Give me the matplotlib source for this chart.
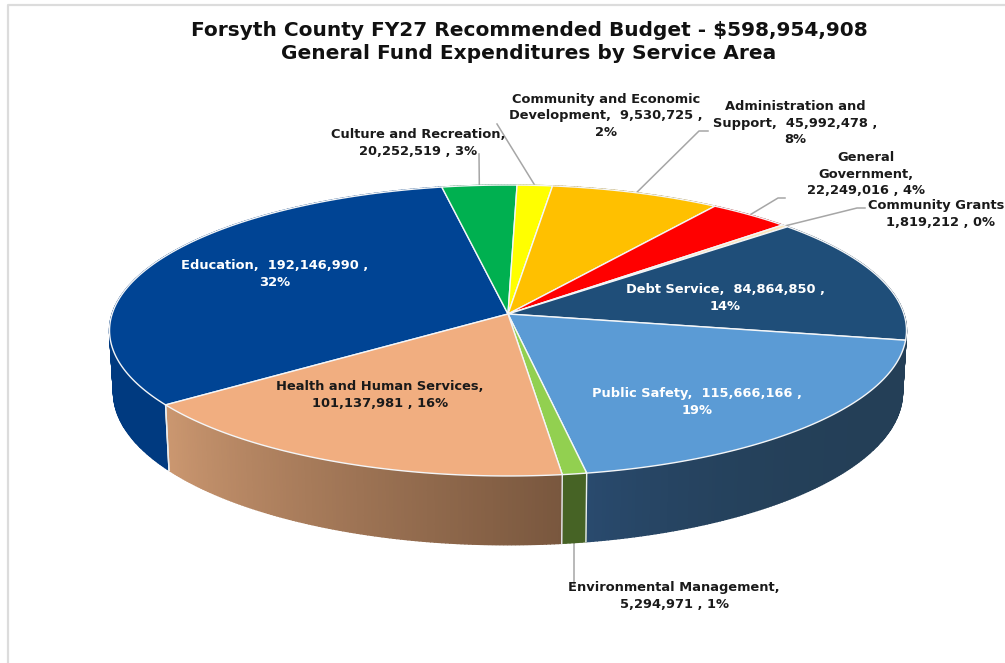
import numpy as np
import matplotlib
matplotlib.use('Agg')
import matplotlib.pyplot as plt

categories = ['Education', 'Culture and Recreation', 'Community and Economic Development',
              'Administration and Support', 'General Government', 'Community Grants',
              'Debt Service', 'Public Safety', 'Environmental Management',
              'Health and Human Services']
values = [192146990, 20252519, 9530725, 45992478, 22249016,
          1819212, 84864850, 115666166, 5294971, 101137981]
percents = [32, 3, 2, 8, 4, 0, 14, 19, 1, 16]
top_colors = ['#004494', '#00B050', '#FFFF00', '#FFC000', '#FF0000',
              '#FBE5B8', '#1F4E79', '#5B9BD5', '#92D050', '#F1AE80']
side_start = ['#003A80', '#006830', '#999900', '#997300', '#990000',
              '#96897A', '#243F57', '#243F57', '#466325', '#79573E']
side_end = ['#003A80', '#006830', '#999900', '#997300', '#990000',
            '#96897A', '#243F57', '#294A6E', '#466325', '#CB9770']

title_lines = 'Forsyth County FY27 Recommended Budget - $598,954,908\nGeneral Fund Expenditures by Service Area'

# perspective of the pie, in pixels
cx, cy = 508.0, 314.0
a, b = 395.9, 143.6
k = 0.1134
depth = 61.0
start_angle = -126.2


def rim(theta, lower=False):
    # theta in degrees clockwise from the back of the pie
    t = np.radians(theta)
    u = np.sin(t)
    w = -np.cos(t)
    s = 1.0 / (1.0 - k * w)
    if lower:
        return cx + 0.99 * a * u * s, cy + b * w * s + depth * s
    return cx + a * u * s, cy + b * w * s


def hex2rgb(c):
    return np.array(matplotlib.colors.to_rgb(c))


fig = plt.figure(figsize=(10.05, 6.63), dpi=100)
ax = fig.add_axes([0, 0, 1, 1])
ax.set_xlim(0, 1005)
ax.set_ylim(663, 0)
ax.axis('off')

shares = np.array(values) / float(sum(values)) * 360.0
edges = start_angle + np.concatenate(([0], np.cumsum(shares)))

# sides first, only the front half can be seen
for i in range(len(values)):
    t0, t1 = edges[i], edges[i + 1]
    n = max(int((t1 - t0) * 2), 2)
    th = np.linspace(t0, t1, n + 1)
    for j in range(n):
        x0, y0 = rim(th[j])
        x1, y1 = rim(th[j + 1])
        x2, y2 = rim(th[j + 1], True)
        x3, y3 = rim(th[j], True)
        f = (j + 0.5) / n
        if i == 7:
            f = f ** 4  # public safety only lightens near its left end
        col = (1 - f) * hex2rgb(side_start[i]) + f * hex2rgb(side_end[i])
        ax.fill([x0, x1, x2, x3], [y0, y1, y2, y3], color=col, lw=1.0, zorder=2)

# white seams between the sides, none on the silhouette
for e in edges:
    x0, y0 = rim(e)
    x1, y1 = rim(e, True)
    if np.cos(np.radians(e)) < -0.2:
        ax.plot([x0, x1], [y0, y1], color='#E8EEF2', lw=1.0, zorder=3)

# top face
for i in range(len(values)):
    th = np.linspace(edges[i], edges[i + 1], 120)
    xs, ys = rim(th)
    ax.fill(np.r_[cx, xs], np.r_[cy, ys], facecolor=top_colors[i], edgecolor='#F4F6F8',
            lw=1.0, joinstyle='round', zorder=4)

# leader lines start on the rim at the middle of each slice
mids = 0.5 * (edges[:-1] + edges[1:])
leaders = {1: [(479, 154)], 2: [(497, 124)], 3: [(699, 131), (708, 131)],
           4: [(778, 198), (785, 198)], 5: [(857, 208), (865, 208)]}
for i, pts in leaders.items():
    x0, y0 = rim(mids[i])
    ax.plot([x0] + [p[0] for p in pts], [y0] + [p[1] for p in pts],
            color='#A6A6A6', lw=1.1, zorder=1)
xe, ye = rim(mids[8], True)
ax.plot([xe, xe], [ye, 585], color='#A6A6A6', lw=1.1, zorder=1)

# data labels
label_font = dict(family='DejaVu Sans', fontweight='bold', fontsize=9.4, ha='center',
                  va='center', linespacing=1.32, zorder=6)
labels = [
    ('Education,  {:,} ,\n{}%', 275, 274, 'white', 0),
    ('Culture and Recreation,\n{:,} , {}%', 418, 143, '#1a1a1a', 1),
    ('Community and Economic\nDevelopment,  {:,} ,\n{}%', 606, 116, '#1a1a1a', 2),
    ('Administration and\nSupport,  {:,} ,\n{}%', 795, 123, '#1a1a1a', 3),
    ('General\nGovernment,\n{:,} , {}%', 866, 174, '#1a1a1a', 4),
    ('Debt Service,  {:,} ,\n{}%', 725, 298, 'white', 6),
    ('Public Safety,  {:,} ,\n{}%', 697, 402, 'white', 7),
    ('Environmental Management,\n{:,} , {}%', 674, 596, '#1a1a1a', 8),
    ('Health and Human Services,\n{:,} , {}%', 380, 395, '#1a1a1a', 9),
]
for fmt, x, y, col, i in labels:
    ax.text(x, y, fmt.format(values[i], percents[i]), color=col, **label_font)

# the first line of this one runs to the right edge
ax.text(936, 205, categories[5], color='#1a1a1a', **label_font)
ax.text(941, 222, '{:,} , {}%'.format(values[5], percents[5]), color='#1a1a1a', **label_font)

ax.text(529, 42, title_lines, family='DejaVu Sans', fontweight='bold', fontsize=14.5,
        ha='center', va='center', linespacing=1.31, color='#111111', zorder=6)

# edge of the pasted screenshot
ax.plot([8, 8, 1005], [663, 5, 5], color='#DCDCDC', lw=1.6, zorder=0)

fig.savefig('out.png', dpi=100)
